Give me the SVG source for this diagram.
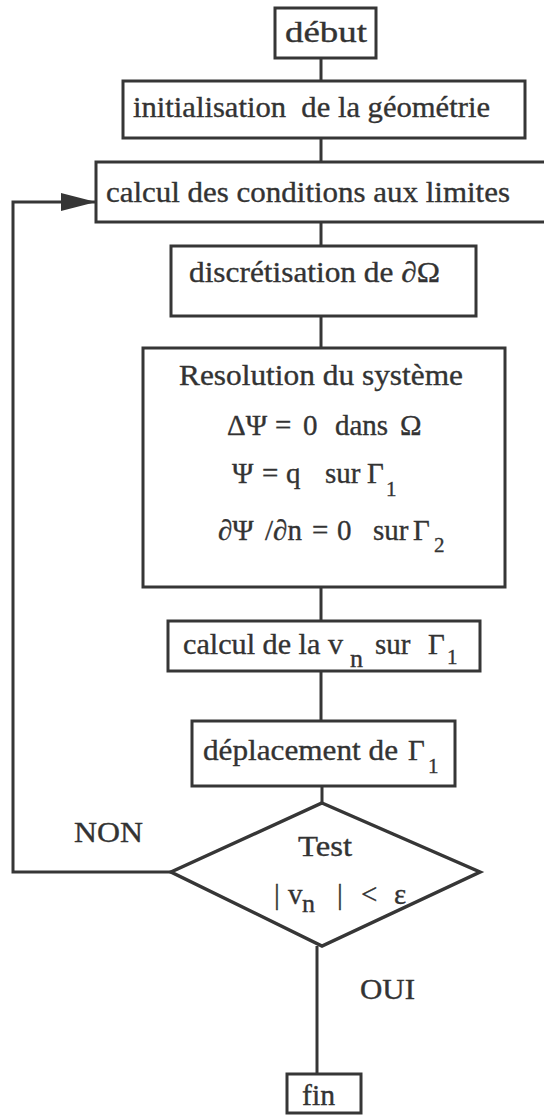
<svg xmlns="http://www.w3.org/2000/svg" width="544" height="1115" viewBox="0 0 544 1115">
<style>
.box{fill:#fff;stroke:#363636;stroke-width:3}
.conn{stroke:#363636;stroke-width:3;fill:none}
text{font-family:"Liberation Serif","Times New Roman",serif;font-size:29px;fill:#333;stroke:#333;stroke-width:0.35;white-space:pre}
.sub{font-size:21px}
.subn{font-size:26px}
</style>
<defs>
<marker id="arrow" markerUnits="userSpaceOnUse" markerWidth="36" markerHeight="20" refX="35" refY="10" orient="auto">
<path d="M0,1 L35,10 L0,19 Z" fill="#363636"/>
</marker>
</defs>
<rect width="544" height="1115" fill="#fff"/>
<g id="connectors">
<line class="conn" x1="321" y1="58" x2="321" y2="81"/>
<line class="conn" x1="321" y1="138" x2="321" y2="162"/>
<line class="conn" x1="321" y1="222" x2="321" y2="246"/>
<line class="conn" x1="321" y1="316" x2="321" y2="348"/>
<line class="conn" x1="321" y1="587" x2="321" y2="621"/>
<line class="conn" x1="321" y1="671" x2="321" y2="721"/>
<line class="conn" x1="322" y1="786" x2="322" y2="803"/>
<line class="conn" x1="317" y1="946" x2="317" y2="1074"/>
<polyline class="conn" points="171,872 13,872 13,202 96,202" marker-end="url(#arrow)"/>
</g>
<g id="debut">
<rect class="box" x="275" y="8" width="101" height="50"/>
<text x="285" y="42" textLength="82" lengthAdjust="spacingAndGlyphs">début</text>
</g>
<g id="init">
<rect class="box" x="123" y="81" width="402" height="57"/>
<text x="133" y="117" textLength="357" lengthAdjust="spacingAndGlyphs">initialisation  de la géométrie</text>
</g>
<g id="calcul-cl">
<rect class="box" x="96" y="162" width="452" height="60"/>
<text x="106" y="202" textLength="404" lengthAdjust="spacingAndGlyphs">calcul des conditions aux limites</text>
</g>
<g id="discretisation">
<rect class="box" x="171" y="246" width="305" height="70"/>
<text x="189" y="282" textLength="251" lengthAdjust="spacingAndGlyphs">discrétisation de ∂Ω</text>
</g>
<g id="resolution">
<rect class="box" x="143" y="348" width="362" height="239"/>
<text x="179" y="385" textLength="284" lengthAdjust="spacingAndGlyphs">Resolution du système</text>
<text y="435"><tspan x="227">ΔΨ</tspan><tspan x="275">=</tspan><tspan x="303">0</tspan><tspan x="335">dans</tspan><tspan x="400">Ω</tspan></text>
<text y="483"><tspan x="232">Ψ</tspan><tspan x="262">=</tspan><tspan x="286">q</tspan><tspan x="325">sur</tspan><tspan x="367">Γ</tspan><tspan class="sub" x="386" y="496">1</tspan></text>
<text y="540"><tspan x="218">∂Ψ</tspan><tspan x="265">/∂n</tspan><tspan x="312">=</tspan><tspan x="337">0</tspan><tspan x="373">sur</tspan><tspan x="413">Γ</tspan><tspan class="sub" x="434" y="552">2</tspan></text>
</g>
<g id="calcul-vn">
<rect class="box" x="168" y="621" width="312" height="50"/>
<text y="654"><tspan x="183" textLength="160" lengthAdjust="spacingAndGlyphs">calcul de la v</tspan><tspan class="subn" x="350" y="667">n</tspan><tspan x="375" y="654">sur</tspan><tspan x="428">Γ</tspan><tspan class="sub" x="447" y="664">1</tspan></text>
</g>
<g id="deplacement">
<rect class="box" x="192" y="721" width="263" height="65"/>
<text y="760"><tspan x="203" textLength="195" lengthAdjust="spacingAndGlyphs">déplacement de</tspan><tspan x="408">Γ</tspan><tspan class="sub" x="428" y="773">1</tspan></text>
</g>
<g id="test">
<polygon class="box" points="322,803 480,872 322,946 171,872" style="stroke-width:3.5"/>
<text x="298" y="856" textLength="54" lengthAdjust="spacingAndGlyphs">Test</text>
<text y="904"><tspan x="274">|</tspan><tspan x="288">v</tspan><tspan class="subn" x="302" y="912">n</tspan><tspan x="337" y="904">|</tspan><tspan x="361">&lt;</tspan><tspan x="394">ε</tspan></text>
</g>
<g id="labels">
<text x="74" y="842" textLength="69" lengthAdjust="spacingAndGlyphs">NON</text>
<text x="360" y="999" textLength="55" lengthAdjust="spacingAndGlyphs">OUI</text>
</g>
<g id="fin">
<rect class="box" x="287" y="1074" width="74" height="39"/>
<text x="302" y="1105" textLength="33" lengthAdjust="spacingAndGlyphs">fin</text>
</g>
</svg>
